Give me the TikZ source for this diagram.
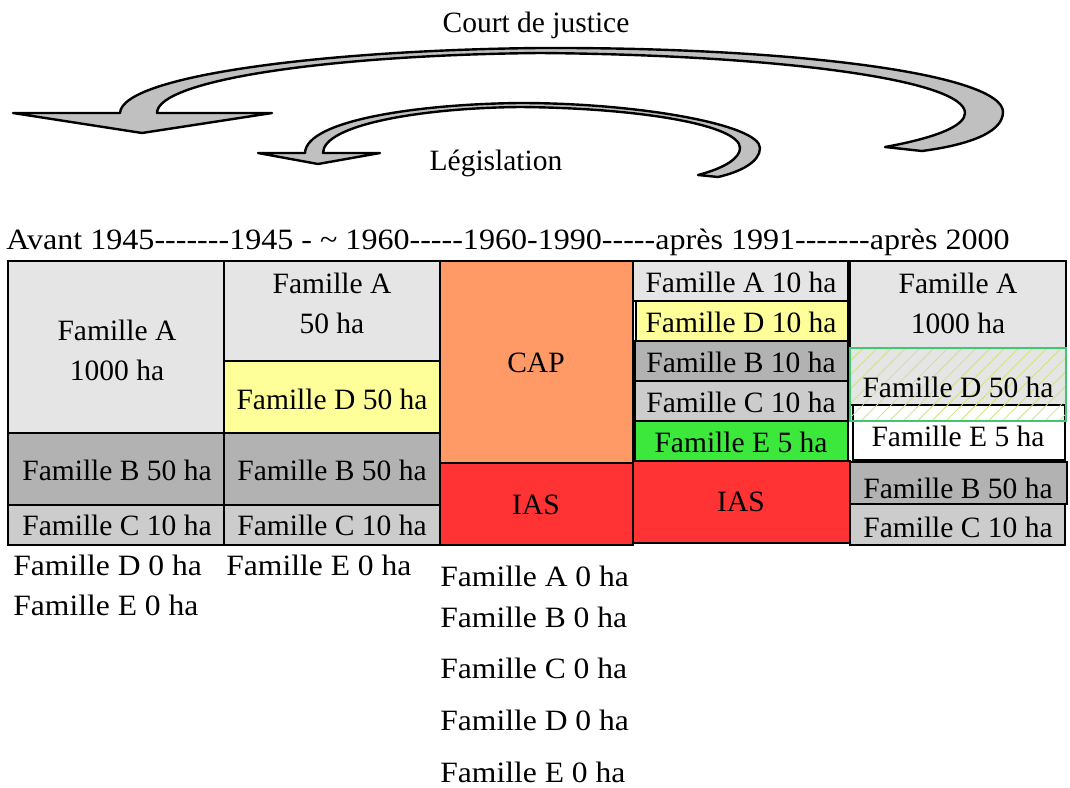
\documentclass[tikz,border=0pt]{standalone}
\usepackage{fontspec}
\setmainfont{Liberation Serif}[Ligatures=TeXOff]
\usetikzlibrary{patterns.meta}
\definecolor{famA}{HTML}{E5E5E5}
\definecolor{famB}{HTML}{B2B2B2}
\definecolor{famC}{HTML}{CCCCCC}
\definecolor{famD}{HTML}{FFFF99}
\definecolor{famE}{HTML}{3CE83C}
\definecolor{capcol}{HTML}{FF9966}
\definecolor{iascol}{HTML}{FF3333}
\definecolor{arrowgray}{HTML}{C0C0C0}
\definecolor{hatchborder}{HTML}{40C870}
\definecolor{hatchline}{HTML}{D4E27A}
\tikzset{
  cell/.style={draw=black, line width=1.3pt},
  lbl/.style={font=\fontsize{14.75}{20}\selectfont, align=center, inner sep=0pt},
  zerolbl/.style={lbl, anchor=west},
  bigarrow/.style={draw=black, line width=1.2pt, fill=arrowgray, line join=round},
}
\newcommand{\wz}[1]{\scalebox{1.07}[1]{#1}}
\begin{document}
\begin{tikzpicture}[x=0.5pt,y=-0.5pt]
\useasboundingbox (0,0) rectangle (1070,787);

% curved arrows
\draw[bigarrow] (142,133) -- (13,113) -- (120,113)
  .. controls (122,75) and (330,50) .. (540,48)
  .. controls (800,47) and (1003,75) .. (1003,112)
  .. controls (1003,135) and (960,146) .. (922,151)
  -- (885,147)
  .. controls (940,137) and (965,125) .. (965,113)
  .. controls (965,80) and (780,55) .. (540,53)
  .. controls (330,55) and (157,80) .. (157,113)
  -- (272,113) -- cycle;
\draw[bigarrow] (318,164) -- (258,153) -- (305,153)
  .. controls (306,120) and (420,104) .. (520,103)
  .. controls (640,103) and (760,125) .. (760,148)
  .. controls (760,162) and (740,172) .. (718,177)
  -- (698,175)
  .. controls (725,168) and (740,158) .. (740,148)
  .. controls (740,125) and (640,108) .. (520,107)
  .. controls (420,108) and (323,125) .. (323,153)
  -- (380,153) -- cycle;
\node[lbl] (court) at (536,25) {Court de justice};
\node[lbl] (legis) at (496,163) {Législation};

% timeline
\node[lbl, anchor=west] (timeline) at (6,242) {\scalebox{1.087}[1]{Avant 1945-------1945 - \textasciitilde{} 1960-----1960-1990-----après 1991-------après 2000}};

% column 1
\draw[cell, fill=famA] (8,261) rectangle (224,433);
\draw[cell, fill=famB] (8,433) rectangle (224,505);
\draw[cell, fill=famC] (8,505) rectangle (224,545);
\node[lbl] (c1a) at (117,350) {Famille A\\1000 ha};
\node[lbl] (c1b) at (117,470) {Famille B 50 ha};
\node[lbl] (c1c) at (117,525) {Famille C 10 ha};

% column 2
\draw[cell, fill=famA] (224,261) rectangle (440,361);
\draw[cell, fill=famD] (224,361) rectangle (440,433);
\draw[cell, fill=famB] (224,433) rectangle (440,505);
\draw[cell, fill=famC] (224,505) rectangle (440,545);
\node[lbl] (c2a) at (332,303) {Famille A\\50 ha};
\node[lbl] (c2d) at (332,399) {Famille D 50 ha};
\node[lbl] (c2b) at (332,470) {Famille B 50 ha};
\node[lbl] (c2c) at (332,525) {Famille C 10 ha};

% column 3
\draw[cell, fill=capcol] (440,261) rectangle (633,463);
\draw[cell, fill=iascol] (440,463) rectangle (633,545);
\node[lbl] (c3cap) at (536,363) {CAP};
\node[lbl] (c3ias) at (536,505) {IAS};

% column 4
\draw[cell, fill=famA] (633,261) rectangle (848,301);
\draw[cell, fill=famD] (636,301) rectangle (848,341);
\draw[cell, fill=famB] (635,341) rectangle (848,381);
\draw[cell, fill=famC] (635,381) rectangle (848,421);
\draw[cell, fill=famE] (635,421) rectangle (848,461);
\draw[cell, fill=iascol] (633,461) rectangle (850,543);
\node[lbl] (c4a) at (741,282) {Famille A 10 ha};
\node[lbl] (c4d) at (741,322) {Famille D 10 ha};
\node[lbl] (c4b) at (741,362) {Famille B 10 ha};
\node[lbl] (c4c) at (741,402) {Famille C 10 ha};
\node[lbl] (c4e) at (741,442) {Famille E 5 ha};
\node[lbl] (c4ias) at (741,502) {IAS};

% column 5
\draw[cell, fill=famA] (850,261) rectangle (1066,405);
\draw[cell, fill=white] (853,405) rectangle (1065,460);
\draw[cell, fill=famB] (850,462) rectangle (1067,504);
\draw[cell, fill=famC] (850,504) rectangle (1065,545);
\path[pattern={Lines[angle=45,distance=5pt,line width=0.4pt]}, pattern color=hatchline] (850,348) rectangle (1066,421);
\draw[draw=hatchborder, line width=1.1pt] (850,348) rectangle (1066,421);
\node[lbl] (c5a) at (958,303) {Famille A\\1000 ha};
\node[lbl] (c5d) at (958,387) {Famille D 50 ha};
\node[lbl] (c5e) at (958,436) {Famille E 5 ha};
\node[lbl] (c5b) at (958,488) {Famille B 50 ha};
\node[lbl] (c5c) at (958,527) {Famille C 10 ha};

% zero lists
\node[zerolbl] (z1d) at (13,565) {\wz{Famille D 0 ha}};
\node[zerolbl] (z1e) at (13,605) {\wz{Famille E 0 ha}};
\node[zerolbl] (z2e) at (226,565) {\wz{Famille E 0 ha}};
\node[zerolbl] (z3a) at (440,576) {\wz{Famille A 0 ha}};
\node[zerolbl] (z3b) at (440,617) {\wz{Famille B 0 ha}};
\node[zerolbl] (z3c) at (440,668) {\wz{Famille C 0 ha}};
\node[zerolbl] (z3d) at (440,720) {\wz{Famille D 0 ha}};
\node[zerolbl] (z3e) at (440,772) {\wz{Famille E 0 ha}};
\end{tikzpicture}
\end{document}
